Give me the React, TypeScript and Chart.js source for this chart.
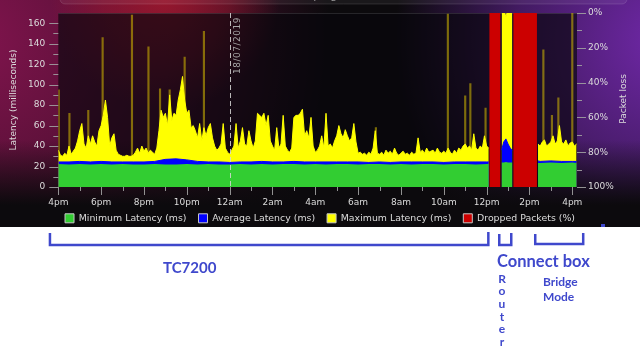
import React, { useEffect, useRef } from 'react';
import { Chart, registerables } from 'chart.js';

Chart.register(...registerables);

// ---------- DATA ----------
// hours after 4pm (17/07/2019), one max-latency sample every 6 minutes
const SAMPLE_STEP_H = 0.1;

const maxLatency: (number | null)[] = [
  36, 31, 30, 33, 31, 40, 32, 35, 38, 45,
  55, 62, 42, 38, 50, 42, 50, 44, 40, 55,
  60, 70, 85, 68, 40, 48, 52, 36, 32, 31,
  30, 30, 31, 30, 30, 31, 34, 38, 33, 40,
  35, 38, 33, 36, 34, 32, 38, 55, 75, 68,
  72, 60, 90, 65, 72, 70, 85, 95, 108, 85,
  72, 75, 58, 60, 55, 48, 62, 45, 58, 50,
  58, 62, 48, 40, 36, 38, 42, 62, 38, 34,
  32, 36, 40, 62, 38, 45, 58, 42, 40, 55,
  45, 38, 45, 72, 70, 68, 72, 60, 70, 45,
  40, 36, 58, 38, 42, 70, 40, 36, 34, 38,
  68, 70, 70, 72, 76, 50, 55, 48, 68, 40,
  34, 36, 40, 50, 38, 72, 40, 42, 38, 45,
  50, 60, 52, 48, 56, 50, 45, 48, 62, 44,
  33, 34, 32, 33, 31, 34, 32, 38, 55, 33,
  32, 34, 31, 36, 33, 35, 32, 38, 33, 31,
  33, 35, 32, 33, 31, 34, 32, 33, 48, 34,
  36, 33, 38, 34, 35, 36, 33, 38, 34, 33,
  35, 33, 38, 34, 32, 36, 33, 38, 36, 40,
  42, 38, 40, 36, 52, 38, 36, 40, 38, 50,
  40, 38, null, null, null, null, null, 174, 174, 166,
  174, 174, 174, null, null, null, null, null, null, null,
  null, null, null, null, 42, 40, 44, 46, 40, 42,
  44, 50, 42, 45, 60, 44, 42, 46, 40, 43,
  44, 40, 42,
];

// single-sample latency spikes (hours, ms)
const spikeTimes = [0.02, 0.52, 1.4, 2.07, 3.44, 4.21, 4.75, 5.2, 5.9, 6.8, 14.83, 18.19, 19.0, 19.24, 19.95, 22.65, 23.05, 23.35, 24.0];
const spikeValues = [95, 72, 75, 146, 168, 137, 96, 95, 127, 152, 58, 169, 89, 101, 77, 134, 70, 87, 170];

// min / average latency (hours, ms)
const latencyTimes = [
  0, 0.5, 1, 1.5, 2, 2.5, 3, 3.5, 4, 4.5, 5, 5.5, 6, 6.5, 7, 7.5, 8, 8.5, 9, 9.5,
  10, 10.5, 11, 11.5, 12, 12.5, 13, 13.5, 14, 14.5, 15, 15.5, 16, 16.5, 17, 17.5, 18, 18.5, 19, 19.5,
  20, 20.1, 20.4, 20.7, 20.8, 20.9, 21.0, 21.1, 21.2, 21.7, 22.4, 22.5, 23, 23.5, 24, 24.2,
];
const minLatency: (number | null)[] = [
  22.5, 22, 22.5, 22, 22.5, 22, 22.5, 22, 22, 22.5, 22, 22, 22.5, 22, 22.5, 22, 22, 22.5, 22, 22.5,
  22, 22.5, 22.5, 22, 22.5, 22, 22.5, 22.5, 22, 22.5, 22.5, 22, 22.5, 22, 22.5, 22.5, 22, 22.5, 22.5, 22,
  22.5, 22.5, null, 24, 24, 24.5, 24, 24, 24, null, 23.5, 23.5, 24, 23.5, 24, 23.5,
];
const avgLatency: (number | null)[] = [
  24.5, 24.5, 25, 24.5, 25, 24.5, 24.5, 24.5, 24.5, 25, 27, 27.5, 26.5, 25, 24.5, 24.5, 24, 24.5, 24.5, 25,
  24.5, 24.5, 25, 24.5, 24.5, 24.5, 24.5, 24.5, 24.5, 24, 24.5, 24, 24.5, 24.5, 24.5, 24.5, 24, 24.5, 24.5, 24.5,
  24.5, 24.5, null, 36, 44, 47, 42, 38, 36, null, 25.5, 25, 25.5, 25, 25, 25,
];

// dropped packets (%), value holds from each time until the next
const dropTimes = [0, 20.13, 20.64, 21.25, 22.35, 24.22];
const dropValues = [0, 100, 0, 100, 0, 0];

const xTickLabels = ['4pm', '6pm', '8pm', '10pm', '12am', '2am', '4am', '6am', '8am', '10am', '12pm', '2pm', '4pm'];
const seriesNames = ['Minimum Latency (ms)', 'Average Latency (ms)', 'Maximum Latency (ms)', 'Dropped Packets (%)'];
const DATE_MARK_HOUR = 8;
const DATE_MARK_LABEL = '18/07/2019';
const X_MAX_H = 24.22;

// ---------- STYLE ----------
const GREEN = '#32cd32';
const BLUE = '#0000ff';
const YELLOW = '#ffff00';
const RED = '#cc0000';
const SPIKE = 'rgba(215,190,0,0.55)';
const FONT = "'DejaVu Sans', sans-serif";
const TXT = '#dcdcdc';
const ANNOT = '#3f48cc';
const PANEL_H = 227;

const seriesColors = [GREEN, BLUE, YELLOW, RED];

function glow(ctx: CanvasRenderingContext2D, x: number, y: number, r: number, rgb: string, a: number) {
  const g = ctx.createRadialGradient(x, y, 0, x, y, r);
  g.addColorStop(0, `rgba(${rgb},${a})`);
  g.addColorStop(0.55, `rgba(${rgb},${a * 0.55})`);
  g.addColorStop(1, `rgba(${rgb},0)`);
  ctx.fillStyle = g;
  ctx.fillRect(0, 0, 640, PANEL_H);
}

const zeroPad = (s: any) => {
  s.paddingTop = 0;
  s.paddingBottom = 0;
  s.paddingLeft = 0;
  s.paddingRight = 0;
};

const decorPlugin = {
  id: 'decor',
  beforeDraw(chart: any) {
    const { ctx, width, height, chartArea: a } = chart;
    ctx.save();
    ctx.fillStyle = '#ffffff';
    ctx.fillRect(0, 0, width, height);
    ctx.fillStyle = '#0c0a0d';
    ctx.fillRect(0, 0, width, PANEL_H);
    glow(ctx, -30, 40, 360, '130,20,78', 1);
    glow(ctx, 665, 40, 270, '112,40,168', 1);
    glow(ctx, 165, -5, 115, '170,25,45', 0.8);
    const dk = ctx.createLinearGradient(0, 140, 0, 205);
    dk.addColorStop(0, 'rgba(12,10,13,0)');
    dk.addColorStop(1, 'rgba(12,10,13,1)');
    ctx.fillStyle = dk;
    ctx.fillRect(0, 140, width, PANEL_H - 140);
    // header bar (cut off at the top of the picture)
    ctx.beginPath();
    ctx.roundRect(60, -14, 567, 18, 5);
    ctx.fillStyle = 'rgba(255,255,255,0.06)';
    ctx.fill();
    ctx.strokeStyle = 'rgba(255,255,255,0.12)';
    ctx.lineWidth = 1;
    ctx.stroke();
    ctx.font = `11px ${FONT}`;
    ctx.fillStyle = 'rgba(225,225,225,0.6)';
    ctx.textBaseline = 'alphabetic';
    ctx.textAlign = 'left';
    ctx.fillText('www.thinkbroadband.com/ping', 166, -1);
    // plot area
    ctx.fillStyle = 'rgba(8,6,12,0.66)';
    ctx.fillRect(a.left, a.top, a.right - a.left, a.bottom - a.top);
    ctx.strokeStyle = 'rgba(255,255,255,0.12)';
    ctx.beginPath();
    ctx.moveTo(a.left, a.top + 0.5);
    ctx.lineTo(a.right, a.top + 0.5);
    ctx.stroke();
    ctx.restore();
  },
  afterDatasetsDraw(chart: any) {
    const { ctx, chartArea: a, scales } = chart;
    const x8 = Math.round(scales.x.getPixelForValue(DATE_MARK_HOUR)) + 0.5;
    ctx.save();
    ctx.strokeStyle = 'rgba(215,215,215,0.85)';
    ctx.lineWidth = 1;
    ctx.setLineDash([5, 3]);
    ctx.beginPath();
    ctx.moveTo(x8, a.top);
    ctx.lineTo(x8, a.bottom);
    ctx.stroke();
    ctx.setLineDash([]);
    ctx.translate(x8 + 7, a.top + 61);
    ctx.rotate(-Math.PI / 2);
    ctx.font = `9px ${FONT}`;
    (ctx as any).letterSpacing = '0.5px';
    ctx.fillStyle = 'rgba(175,175,175,0.95)';
    ctx.textAlign = 'left';
    ctx.textBaseline = 'middle';
    ctx.fillText(DATE_MARK_LABEL, 0, 0);
    ctx.restore();
  },
  afterDraw(chart: any) {
    const { ctx, chartArea: a, scales } = chart;
    const { x: xs, y: ys, y1 } = scales;
    ctx.save();
    ctx.strokeStyle = 'rgba(160,160,160,0.9)';
    ctx.lineWidth = 1;
    ctx.beginPath();
    for (let v = 0; v <= 160; v += 10) {
      const y = Math.round(ys.getPixelForValue(v)) + 0.5;
      ctx.moveTo(a.left - (v % 20 === 0 ? 9 : 5), y);
      ctx.lineTo(a.left, y);
    }
    for (let v = 0; v <= 100; v += 10) {
      const y = Math.round(y1.getPixelForValue(v)) + 0.5;
      ctx.moveTo(a.right, y);
      ctx.lineTo(a.right + (v % 20 === 0 ? 9 : 5), y);
    }
    for (let h = 0; h <= 24; h++) {
      const x = Math.round(xs.getPixelForValue(h)) + 0.5;
      ctx.moveTo(x, a.bottom);
      ctx.lineTo(x, a.bottom + (h % 2 === 0 ? 8 : 4));
    }
    ctx.stroke();

    // x tick labels (every 2 hours)
    ctx.font = `9px ${FONT}`;
    ctx.fillStyle = TXT;
    ctx.textAlign = 'center';
    ctx.textBaseline = 'middle';
    xTickLabels.forEach((lab, i) => {
      ctx.fillText(lab, xs.getPixelForValue(i * 2), a.bottom + 15.5);
    });

    // axis titles
    ctx.save();
    ctx.translate(14, 100);
    ctx.rotate(-Math.PI / 2);
    ctx.fillText('Latency (milliseconds)', 0, 0);
    ctx.restore();
    ctx.save();
    ctx.translate(624, 99);
    ctx.rotate(-Math.PI / 2);
    ctx.fillText('Packet loss', 0, 0);
    ctx.restore();

    // annotations below the chart
    ctx.strokeStyle = ANNOT;
    ctx.fillStyle = ANNOT;
    ctx.lineWidth = 2.5;
    ctx.lineJoin = 'miter';
    const bracket = (h0: number, h1: number, yTop: number, yBot: number) => {
      const x0 = xs.getPixelForValue(h0);
      const x1 = xs.getPixelForValue(h1);
      ctx.beginPath();
      ctx.moveTo(x0, yTop);
      ctx.lineTo(x0, yBot);
      ctx.lineTo(x1, yBot);
      ctx.lineTo(x1, yTop - 1);
      ctx.stroke();
    };
    bracket(-0.39, 20.08, 233, 245);
    bracket(20.59, 21.15, 234, 245);
    bracket(22.27, 24.51, 234, 244);

    ctx.textAlign = 'left';
    ctx.textBaseline = 'middle';
    ctx.font = `bold 15px Lato, 'Open Sans', sans-serif`;
    ctx.fillText('TC7200', 163, 268);
    ctx.font = `bold 16.5px Lato, 'Open Sans', sans-serif`;
    ctx.fillText('Connect box', 497, 262);
    ctx.font = `bold 12px Lato, 'Open Sans', sans-serif`;
    ctx.fillText('Bridge', 543, 282);
    ctx.fillText('Mode', 543, 297);
    ctx.textAlign = 'center';
    const router = 'Router';
    for (let i = 0; i < router.length; i++) {
      ctx.fillText(router[i], 502, 279 + i * 12.6);
    }
    ctx.fillRect(601, 224, 4, 3);
    ctx.restore();
  },
};

export default function App() {
  const ref = useRef<HTMLCanvasElement | null>(null);

  useEffect(() => {
    document.body.style.margin = '0';
    const canvas = ref.current;
    if (!canvas) return;

    const maxPts = maxLatency.map((v, i) => ({ x: Math.round(i * SAMPLE_STEP_H * 100) / 100, y: v }));
    const minPts = latencyTimes.map((t, i) => ({ x: t, y: minLatency[i] }));
    const avgPts = latencyTimes.map((t, i) => ({ x: t, y: avgLatency[i] }));
    const dropPts = dropTimes.map((t, i) => ({ x: t, y: dropValues[i] }));
    const spikePts = spikeTimes.map((t, i) => ({ x: t, y: spikeValues[i] }));

    const lineBase = { pointRadius: 0, tension: 0, spanGaps: false, fill: 'origin', yAxisID: 'y' };

    const chart = new Chart(canvas, {
      type: 'line',
      data: {
        datasets: [
          { ...lineBase, label: seriesNames[0], data: minPts, borderColor: GREEN, backgroundColor: GREEN, borderWidth: 0 },
          { ...lineBase, label: seriesNames[1], data: avgPts, borderColor: BLUE, backgroundColor: BLUE, borderWidth: 1 },
          { ...lineBase, label: seriesNames[2], data: maxPts, borderColor: YELLOW, backgroundColor: YELLOW, borderWidth: 1 },
          { ...lineBase, label: seriesNames[3], data: dropPts, yAxisID: 'y1', stepped: 'before', borderColor: RED, backgroundColor: RED, borderWidth: 0 },
          { type: 'bar', label: 'spikes', data: spikePts, yAxisID: 'y', backgroundColor: SPIKE, borderWidth: 0, barThickness: 1.5, grouped: false } as any,
        ] as any,
      },
      options: {
        responsive: false,
        animation: false,
        events: [],
        layout: { padding: { top: 13, bottom: 123, left: 0, right: 0 } },
        plugins: {
          tooltip: { enabled: false },
          legend: {
            position: 'bottom',
            labels: {
              color: TXT,
              font: { family: FONT, size: 9.4 },
              boxWidth: 9,
              boxHeight: 9,
              padding: 12,
              generateLabels: () =>
                seriesNames.map((name, i) => ({
                  text: name,
                  fillStyle: seriesColors[i],
                  strokeStyle: '#c8c8c8',
                  lineWidth: 1,
                  hidden: false,
                  datasetIndex: i,
                  fontColor: TXT,
                })),
            },
          },
        },
        scales: {
          x: {
            type: 'linear',
            min: 0,
            max: X_MAX_H,
            offset: false,
            grid: { display: false, drawTicks: false },
            border: { display: false },
            ticks: { display: false, stepSize: 1, includeBounds: false },
            afterFit: (s: any) => { s.height = 14.6; zeroPad(s); },
          },
          y: {
            position: 'left',
            min: 0,
            max: 170,
            grid: { display: false, drawTicks: false },
            border: { display: false },
            ticks: {
              stepSize: 10,
              includeBounds: false,
              padding: 13,
              color: TXT,
              font: { family: FONT, size: 9 },
              callback: (v: any) => (v % 20 === 0 ? String(v) : ''),
            },
            afterFit: (s: any) => { s.width = 58.3; zeroPad(s); },
          },
          y1: {
            position: 'right',
            min: 0,
            max: 100,
            reverse: true,
            grid: { display: false, drawTicks: false },
            border: { display: false },
            ticks: {
              stepSize: 10,
              includeBounds: false,
              padding: 11,
              color: TXT,
              font: { family: FONT, size: 9 },
              callback: (v: any) => (v % 20 === 0 ? `${v}%` : ''),
            },
            afterFit: (s: any) => { s.width = 63; zeroPad(s); },
          },
        },
      } as any,
      plugins: [decorPlugin],
    });

    return () => chart.destroy();
  }, []);

  return (
    <div style={{ width: 640, height: 356 }}>
      <canvas ref={ref} width={640} height={356} style={{ display: 'block' }} />
    </div>
  );
}
